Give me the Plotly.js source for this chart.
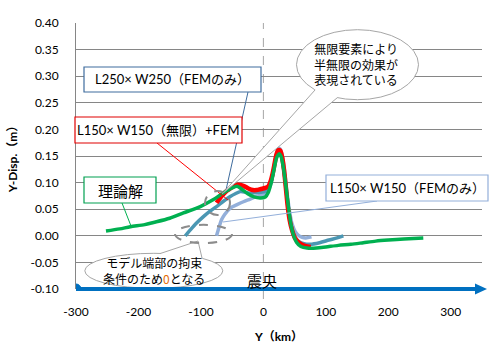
<!DOCTYPE html>
<html><head><meta charset="utf-8">
<script src="https://cdn.plot.ly/plotly-3.0.1.min.js"></script>
<style>html,body{margin:0;padding:0;background:#fff}#chart{width:500px;height:350px}</style>
</head><body><div id="chart"></div>
<script>
// ---- data ----
const X_TICKS = [-300,-200,-100,0,100,200,300];
const X_TICK_LABELS = ['-300','-200','-100','0','100','200','300'];
const Y_TICKS = [-0.10,-0.05,0.00,0.05,0.10,0.15,0.20,0.25,0.30,0.35,0.40];
const Y_TICK_LABELS = ['-0.10','-0.05','0.00','0.05','0.10','0.15','0.20','0.25','0.30','0.35','0.40'];

const NAME_THEORY = '理論解';
const X_THEORY = [-252,-230,-213,-190,-176,-150,-128,-101,-80,-65,-50,-42,-35,-25,-15,-5,3,8,13,17,21,25,28,32,36,40,44,48,53,60,70,85,100,120,140,160,180,200,225,256];
const Y_THEORY = [0.009,0.013,0.017,0.021,0.025,0.033,0.043,0.055,0.068,0.080,0.090,0.093,0.088,0.079,0.073,0.071,0.073,0.082,0.102,0.124,0.146,0.154,0.150,0.128,0.094,0.055,0.022,0.002,-0.012,-0.020,-0.023,-0.023,-0.021,-0.018,-0.016,-0.013,-0.010,-0.008,-0.006,-0.004];

const NAME_INF = 'L150× W150（無限）+FEM';
const X_INF = [-75,-70,-64,-58,-53,-46,-40,-32,-24,-17,-11,-4,3,8,12,15,18,21,24,27,30,33,36,39,42,46,50,55,62,70,76];
const Y_INF = [0.062,0.070,0.078,0.085,0.089,0.094,0.096,0.094,0.089,0.086,0.086,0.088,0.090,0.093,0.104,0.118,0.136,0.153,0.161,0.160,0.148,0.124,0.090,0.055,0.030,0.010,-0.003,-0.011,-0.017,-0.020,-0.021];

const NAME_L250 = 'L250× W250（FEMのみ）';
const X_L250 = [-125,-117,-107,-96,-86,-75,-64,-53,-45,-37,-29,-21,-12,-4,3,8,12,15,18,21,24,27,30,33,36,39,42,46,50,57,65,75,90,105,118,128];
const Y_L250 = [0.000,0.011,0.024,0.036,0.046,0.055,0.065,0.074,0.079,0.083,0.082,0.080,0.081,0.082,0.083,0.088,0.100,0.116,0.135,0.152,0.160,0.158,0.145,0.122,0.090,0.058,0.032,0.012,-0.002,-0.011,-0.015,-0.016,-0.013,-0.008,-0.004,0.000];

const NAME_L150 = 'L150× W150（FEMのみ）';
const X_L150 = [-75,-71,-67,-62,-53,-43,-32,-21,-11,-3,3,8,12,15,18,21,24,27,30,33,36,39,42,46,51,56,62,68,77];
const Y_L150 = [0.000,0.016,0.030,0.040,0.052,0.058,0.064,0.069,0.074,0.077,0.080,0.086,0.098,0.114,0.136,0.155,0.165,0.163,0.152,0.130,0.100,0.070,0.045,0.022,0.008,0.001,-0.003,-0.004,-0.002];

const EPICENTER_X = 0;
const EPICENTER_LABEL = '震央';
const BASE_Y = -0.10;
const BASE_X0 = -300;

// ---- layout helpers (pixel -> paper) ----
const ML = 76, MT = 23, PW = 406, PH = 266;
const PX = x => (x - ML) / PW;
const PY = y => (MT + PH - y) / PH;

const JP = '"Noto Sans CJK JP", sans-serif';
const LAT = 'Lato, "Noto Sans CJK JP", sans-serif';

function tr(x, y, name, color, width) {
  return {x: x, y: y, name: name, type: 'scatter', mode: 'lines',
    line: {color: color, width: width, shape: 'spline', smoothing: 0.8},
    hoverinfo: 'skip', showlegend: false, cliponaxis: false};
}
const traces = [
  tr(X_L150, Y_L150, NAME_L150, '#93AFDA', 3.5),
  tr(X_L250, Y_L250, NAME_L250, '#4B97B3', 3.5),
  tr(X_INF, Y_INF, NAME_INF, '#FF0000', 4.5),
  tr(X_THEORY, Y_THEORY, NAME_THEORY, '#00B050', 3.5)
];

function line(x0,y0,x1,y1,color,width,dash){
  return {type:'line', xref:'paper', yref:'paper', x0:PX(x0), y0:PY(y0), x1:PX(x1), y1:PY(y1),
    line:{color:color, width:width, dash:dash||'solid'}, layer:'above'};
}
function rect(x0,y0,x1,y1,color,width){
  return {type:'rect', xref:'paper', yref:'paper', x0:PX(x0), y0:PY(y0), x1:PX(x1), y1:PY(y1),
    fillcolor:'#FFFFFF', line:{color:color, width:width}, layer:'above'};
}
function ell(cx,cy,rx,ry,color,width,fill,dash){
  return {type:'circle', xref:'paper', yref:'paper', x0:PX(cx-rx), y0:PY(cy-ry), x1:PX(cx+rx), y1:PY(cy+ry),
    fillcolor:fill, line:{color:color, width:width, dash:dash||'solid'}, layer:'above'};
}
function poly(pts, fill){
  const d = pts.map((p,i)=>(i?'L':'M')+PX(p[0])+','+PY(p[1])).join(' ')+' Z';
  return {type:'path', xref:'paper', yref:'paper', path:d, fillcolor:fill, line:{width:0, color:'rgba(0,0,0,0)'}, layer:'above'};
}

const shapes = [
  // epicenter dashed line
  {type:'line', xref:'x', yref:'paper', x0:EPICENTER_X, x1:EPICENTER_X, y0:PY(299), y1:1,
   line:{color:'#A6A6A6', width:1, dash:'dash'}, layer:'between'},
  // leader lines
  line(248,92,226,190,'#3E6C9E',1),
  line(157,143,228,200,'#FF0000',1),
  line(122,203,131,226,'#00B050',1),
  line(377,201,223,222,'#93AFDA',1),
  // boxes
  rect(84,67,261,92,'#3E6C9E',1.2),
  rect(75,117,242,143,'#E00000',1.2),
  rect(84,177,156,203,'#00A050',1.2),
  rect(326,175,488,201,'#93AFDA',1.2),
  // bubble 1
  ell(357.5,64.7,61,35,'#A6A6A6',1,'#FFFFFF'),
  poly([[222,194],[315,90],[318,84],[336,93],[337.3,97.7]],'#FFFFFF'),
  line(315,90,222,194,'#A6A6A6',1),
  line(337.3,97.7,222,194,'#A6A6A6',1),
  // bubble 2
  ell(153.8,270.8,69,17.5,'#A6A6A6',1,'#FFFFFF'),
  poly([[198,241],[160,253.6],[165,257],[198,261],[202,258]],'#FFFFFF'),
  line(160,253.6,198,241,'#A6A6A6',1),
  line(202,258,198,241,'#A6A6A6',1),
  // dashed ellipses
  ell(217.5,203,12.5,12,'#8C8C8C',2,'rgba(0,0,0,0)','dash'),
  ell(203.5,234,28.5,9.2,'#8C8C8C',2,'rgba(0,0,0,0)','dash'),
];
// base arrow (Y axis direction) at y = BASE_Y
const yb = 289;
shapes.push(line(76, yb, 478, yb, '#0070C0', 4));
shapes.push(poly([[475,283.5],[487,289],[475,294.5]],'#0070C0'));
shapes.push({type:'circle', xref:'x', yref:'y', xsizemode:'pixel', ysizemode:'pixel',
  xanchor:BASE_X0, yanchor:BASE_Y, x0:-5, x1:5, y0:-5, y1:5,
  fillcolor:'#0070C0', line:{color:'#0070C0', width:1}, layer:'above'});

function txt(cx, cy, text, size, family){
  return {xref:'paper', yref:'paper', x:PX(cx), y:PY(cy), xanchor:'center', yanchor:'middle',
    text:text, showarrow:false, font:{family:family||LAT, size:size, color:'#000'}, align:'center'};
}
const annotations = [
  txt(172.5, 79.5, NAME_L250, 13),
  txt(158.5, 130, NAME_INF, 13),
  txt(120, 190, NAME_THEORY, 15, JP),
  txt(407, 188, NAME_L150, 13),
  txt(356, 64, '無限要素により<br>半無限の効果が<br>表現されている', 12, JP),
  txt(154, 270, 'モデル端部の拘束<br>条件のため<span style="color:#E46C0A">0</span>となる', 12, JP),
  txt(262, 280.5, EPICENTER_LABEL, 15, JP)
];

const layout = {
  width: 500, height: 350,
  margin: {l: ML, r: 500 - ML - PW, t: MT, b: 350 - MT - PH, pad: 0},
  paper_bgcolor: '#fff', plot_bgcolor: '#fff',
  showlegend: false,
  xaxis: {range: [-300, 350], tickmode: 'array', tickvals: X_TICKS, ticktext: X_TICK_LABELS,
    showgrid: false, zeroline: false, showline: false, ticks: '',
    tickfont: {family: 'Lato, sans-serif', size: 12, color: '#000'}, ticklabelstandoff: 14,
    title: {text: 'Y（km）', font: {family: LAT, size: 12, color: '#000', weight: 700}, standoff: 14}},
  yaxis: {range: [-0.1, 0.4], tickmode: 'array', tickvals: Y_TICKS, ticktext: Y_TICK_LABELS,
    showgrid: true, gridcolor: '#868686', gridwidth: 1, zeroline: false,
    showline: true, linecolor: '#868686', linewidth: 1, ticks: '',
    tickfont: {family: 'Lato, sans-serif', size: 12, color: '#000'}, ticklabelstandoff: 14,
    title: {text: 'Y-Disp.（m）', font: {family: LAT, size: 12, color: '#000', weight: 700}, standoff: 10}},
  shapes: shapes,
  annotations: annotations
};
Plotly.newPlot('chart', traces, layout, {staticPlot: true, displayModeBar: false});
</script>
</body></html>
